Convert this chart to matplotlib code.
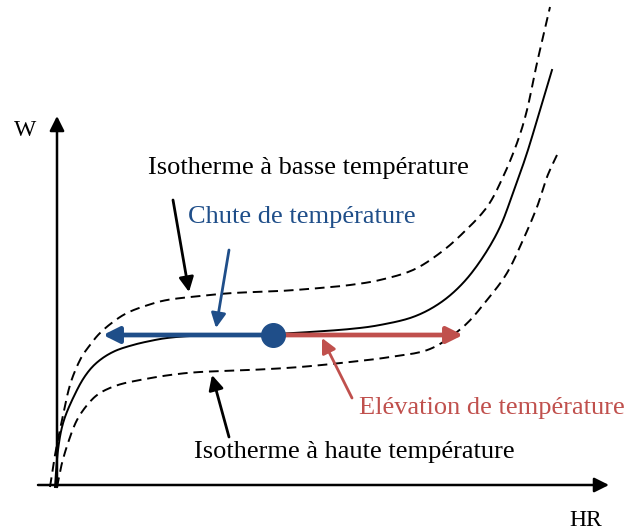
import matplotlib
matplotlib.use("Agg")
import matplotlib.pyplot as plt
import numpy as np

# Schematic isotherms (x right, y down, pixel-like units)
solid_x = [55, 58, 64, 77, 88, 100, 115, 133, 150, 167, 190, 217, 245, 273, 310, 350, 380, 413, 440, 463, 483, 500, 513, 527, 540, 552]
solid_y = [487, 450, 420, 390, 372, 360, 351, 345, 341, 338, 336, 335, 334.5, 334, 332, 329, 325, 317, 303, 283, 257, 227, 193, 153, 110, 70]

upper_x = [50, 55, 62, 70, 80, 90, 100, 113, 127, 145, 167, 200, 233, 280, 320, 350, 380, 413, 440, 463, 487, 503, 517, 527, 537, 550]
upper_y = [487, 455, 420, 385, 360, 345, 333, 322, 313, 306, 300, 296, 293, 291, 288, 285, 280, 270, 253, 233, 207, 177, 143, 110, 63, 7]

lower_x = [57, 62, 69, 77, 88, 100, 118, 140, 170, 200, 250, 300, 350, 390, 430, 463, 487, 507, 523, 537, 547, 557]
lower_y = [487, 463, 440, 420, 404, 393, 385, 380, 375, 372, 370, 367, 362, 357, 349, 327, 300, 273, 240, 207, 177, 155]

# equilibrium point and the two displacements
point = (273, 335)
cold_end = 103
hot_end = 463

BLUE = "#1F4E89"
RED = "#C0504D"


def smooth(xs, ys, n=12):
    # catmull-rom through the read points, just so the sketch is drawn round
    p = np.column_stack([xs, ys]).astype(float)
    p = np.vstack([p[0], p, p[-1]])
    out = []
    t = np.linspace(0, 1, n, endpoint=False)[:, None]
    for i in range(1, len(p) - 2):
        p0, p1, p2, p3 = p[i - 1], p[i], p[i + 1], p[i + 2]
        seg = 0.5 * ((2 * p1) + (-p0 + p2) * t + (2 * p0 - 5 * p1 + 4 * p2 - p3) * t ** 2
                     + (-p0 + 3 * p1 - 3 * p2 + p3) * t ** 3)
        out.append(seg)
    out.append(p[-2][None, :])
    out = np.vstack(out)
    return out[:, 0], out[:, 1]


plt.rcParams["font.family"] = ["Liberation Serif", "DejaVu Serif"]

fig = plt.figure(figsize=(6.26, 5.31), dpi=100)
ax = fig.add_axes([0, 0, 1, 1])
ax.set_xlim(0, 626)
ax.set_ylim(531, 0)
ax.axis("off")

# axes of the sketch
ax.annotate("", xy=(57, 116), xytext=(57, 487),
            arrowprops=dict(arrowstyle="-|>", lw=1.8, color="black", mutation_scale=22, shrinkA=0, shrinkB=0))
ax.annotate("", xy=(609, 485), xytext=(38, 485),
            arrowprops=dict(arrowstyle="-|>", lw=1.8, color="black", mutation_scale=22, shrinkA=0, shrinkB=0))
ax.text(25, 130, "W", fontsize=17, ha="center", va="center")
ax.text(586, 521, "HR", fontsize=17, ha="center", va="center")

# isotherms
ax.plot(*smooth(solid_x, solid_y), color="black", lw=1.4)
ax.plot(*smooth(upper_x, upper_y), color="black", lw=1.4, ls=(0, (5, 3)))
ax.plot(*smooth(lower_x, lower_y), color="black", lw=1.4, ls=(0, (5, 3)))

# displacements from the equilibrium point
ax.annotate("", xy=(cold_end, point[1]), xytext=point,
            arrowprops=dict(arrowstyle="-|>", lw=3.4, color=BLUE, mutation_scale=24, shrinkA=0, shrinkB=0))
ax.annotate("", xy=(hot_end, point[1]), xytext=point,
            arrowprops=dict(arrowstyle="-|>", lw=3.4, color=RED, mutation_scale=24, shrinkA=0, shrinkB=0))
ax.plot(*point, "o", color=BLUE, ms=17, zorder=5)

# labels with pointers
arrow_kw = dict(arrowstyle="-|>", lw=2, mutation_scale=22, shrinkA=0, shrinkB=0)
ax.text(308, 168, "Isotherme à basse température", fontsize=19, ha="center", va="center")
ax.annotate("", xy=(189, 292), xytext=(173, 200), arrowprops=dict(color="black", **arrow_kw))

ax.text(302, 217, "Chute de température", fontsize=19, ha="center", va="center", color=BLUE)
ax.annotate("", xy=(216, 328), xytext=(229, 250), arrowprops=dict(color=BLUE, **arrow_kw))

ax.text(354, 452, "Isotherme à haute température", fontsize=19, ha="center", va="center")
ax.annotate("", xy=(212, 375), xytext=(229, 437), arrowprops=dict(color="black", **arrow_kw))

ax.text(492, 408, "Elévation de température", fontsize=19, ha="center", va="center", color=RED)
ax.annotate("", xy=(322, 338), xytext=(352, 398), arrowprops=dict(color=RED, **arrow_kw))

fig.savefig("out.png", dpi=100)
